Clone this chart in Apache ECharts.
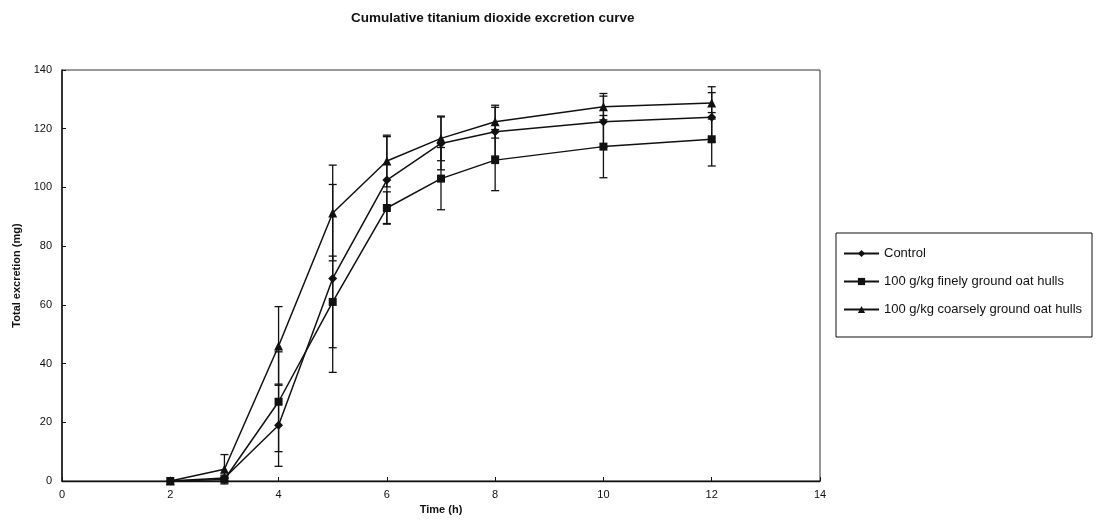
<!DOCTYPE html>
<html>
<head>
<meta charset="utf-8">
<script src="https://cdn.jsdelivr.net/npm/echarts@6/dist/echarts.min.js"></script>
<style>
  html, body { margin: 0; padding: 0; background: #fff; }
  #chart { width: 1096px; height: 527px; }
</style>
</head>
<body>
<div id="chart"></div>
<script>
// sampling times (h)
const timeH = [2, 3, 4, 5, 6, 7, 8, 10, 12]

// cumulative excretion (mg) and error (mg)
const controlMean = [0, 1, 19, 69, 102.5, 115, 119, 122.4, 123.9]
const controlErr = [0, 1, 14, 32, 14.8, 9, 8.3, 8.7, 8.4]
const fineMean = [0, 0.5, 27, 61, 93, 103, 109.3, 113.9, 116.4]
const fineErr = [0, 0.5, 17, 15.6, 5.5, 10.6, 10.4, 10.6, 9.1]
const coarseMean = [0, 4, 46, 91.3, 109, 116.7, 122.4, 127.5, 128.8]
const coarseErr = [0, 5, 13.4, 16.3, 8.8, 7.6, 5.6, 4.5, 5.5]

const names = ['Control', '100 g/kg finely ground oat hulls', '100 g/kg coarsely ground oat hulls']

const ink = '#111'
const font = 'Liberation Sans, Arial, sans-serif'

function points(mean) {
  return timeH.map((t, i) => [t, mean[i]])
}

function errorSeries(key, mean, err) {
  const data = []
  timeH.forEach((t, i) => {
    if (err[i] > 0) data.push([t, mean[i] - err[i], mean[i] + err[i]])
  })
  return {
    name: key + ' error',
    type: 'custom',
    z: 1,
    silent: true,
    encode: { x: 0, y: [1, 2] },
    data: data,
    renderItem: function (params, api) {
      const x = api.value(0)
      const top = api.coord([x, api.value(2)])
      const bot = api.coord([x, api.value(1)])
      const w = 4
      const style = { stroke: ink, lineWidth: 1.3 }
      return {
        type: 'group',
        children: [
          { type: 'line', shape: { x1: top[0], y1: top[1], x2: bot[0], y2: bot[1] }, style: style },
          { type: 'line', shape: { x1: top[0] - w, y1: top[1], x2: top[0] + w, y2: top[1] }, style: style },
          { type: 'line', shape: { x1: bot[0] - w, y1: bot[1], x2: bot[0] + w, y2: bot[1] }, style: style }
        ]
      }
    }
  }
}

function lineSeries(name, mean, symbol, size) {
  return {
    name: name,
    type: 'line',
    z: 3,
    data: points(mean),
    symbol: symbol,
    symbolSize: size,
    showAllSymbol: true,
    itemStyle: { color: ink },
    lineStyle: { color: ink, width: 1.5 }
  }
}

const chart = echarts.init(document.getElementById('chart'))
chart.setOption({
  animation: false,
  backgroundColor: '#fff',
  title: {
    text: 'Cumulative titanium dioxide excretion curve',
    left: 346,
    top: 6,
    textStyle: { fontFamily: font, fontSize: 13.5, fontWeight: 'bold', color: ink }
  },
  legend: {
    data: names,
    orient: 'vertical',
    left: 836,
    top: 233,
    padding: [14, 10, 21, 7],
    itemGap: 15,
    itemWidth: 35,
    itemHeight: 9,
    borderColor: ink,
    borderWidth: 1,
    textStyle: { fontFamily: font, fontSize: 13, color: ink }
  },
  grid: {
    left: 62,
    right: 276,
    top: 70,
    bottom: 46,
    show: true,
    borderColor: '#333',
    borderWidth: 1
  },
  xAxis: {
    type: 'value',
    min: 0,
    max: 14,
    interval: 2,
    name: 'Time (h)',
    nameLocation: 'middle',
    nameGap: 19,
    nameTextStyle: { fontFamily: font, fontSize: 11, fontWeight: 'bold', color: ink },
    axisLine: { show: true, lineStyle: { color: ink, width: 1.3 } },
    axisTick: { show: true, inside: true, length: 4, lineStyle: { color: ink } },
    axisLabel: { margin: 8, fontFamily: font, fontSize: 11, color: ink },
    splitLine: { show: false }
  },
  yAxis: {
    type: 'value',
    min: 0,
    max: 140,
    interval: 20,
    name: 'Total excretion (mg)',
    nameLocation: 'middle',
    nameGap: 40,
    nameTextStyle: { fontFamily: font, fontSize: 11, fontWeight: 'bold', color: ink },
    axisLine: { show: true, lineStyle: { color: ink, width: 1.5 } },
    axisTick: { show: true, inside: true, length: 4, lineStyle: { color: ink } },
    axisLabel: { margin: 10, fontFamily: font, fontSize: 11, color: ink },
    splitLine: { show: false }
  },
  series: [
    errorSeries('control', controlMean, controlErr),
    errorSeries('fine', fineMean, fineErr),
    errorSeries('coarse', coarseMean, coarseErr),
    lineSeries(names[0], controlMean, 'diamond', 9),
    lineSeries(names[1], fineMean, 'rect', 8),
    lineSeries(names[2], coarseMean, 'triangle', 9)
  ]
})
</script>
</body>
</html>
